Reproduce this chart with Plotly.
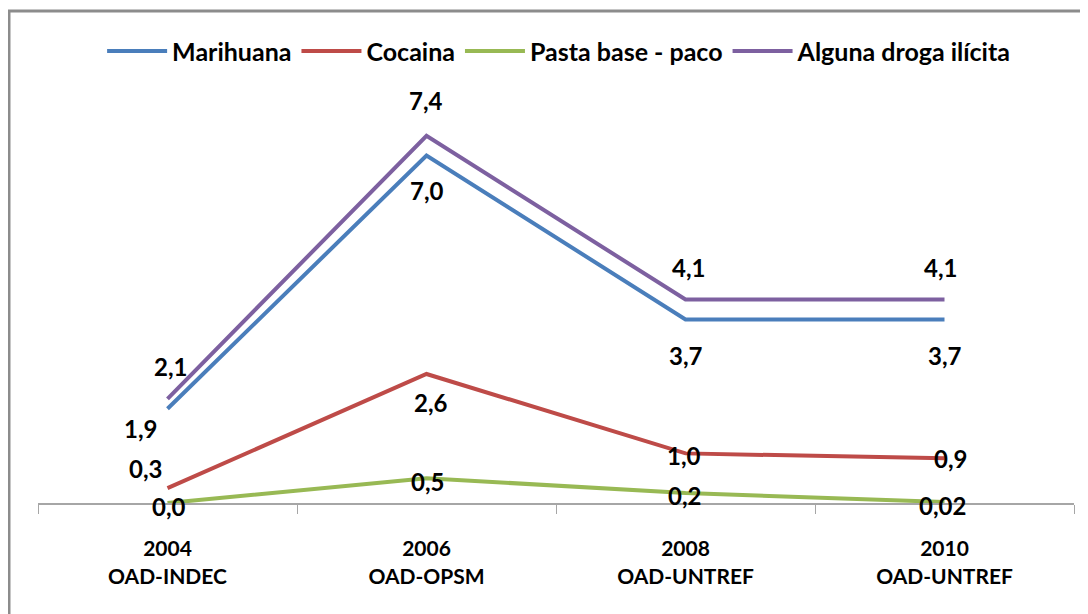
import plotly.graph_objects as go

# data
years = ["2004", "2006", "2008", "2010"]
sources = ["OAD-INDEC", "OAD-OPSM", "OAD-UNTREF", "OAD-UNTREF"]
marihuana = [1.9, 7.0, 3.7, 3.7]
cocaina = [0.3, 2.6, 1.0, 0.9]
pasta_base = [0.0, 0.5, 0.2, 0.02]
alguna_droga = [2.1, 7.4, 4.1, 4.1]
marihuana_txt = ["1,9", "7,0", "3,7", "3,7"]
cocaina_txt = ["0,3", "2,6", "1,0", "0,9"]
pasta_txt = ["0,0", "0,5", "0,2", "0,02"]
alguna_txt = ["2,1", "7,4", "4,1", "4,1"]

cats = [f"{y}<br>{s}" for y, s in zip(years, sources)]

FONT = "Lato"
# label offsets in px (dx, dy) for each point
series = [
    ("Marihuana", marihuana, marihuana_txt, "#4A7EBB",
     [(-27, -20), (0, -35), (0, -36), (0, -36)]),
    ("Cocaina", cocaina, cocaina_txt, "#BE4B48",
     [(-22, 20), (4, -29), (-2, -2), (6, 0)]),
    ("Pasta base - paco", pasta_base, pasta_txt, "#98B954",
     [(1, -3), (1, -3), (-1, -2), (-2, -3)]),
    ("Alguna droga ilícita", alguna_droga, alguna_txt, "#7D60A0",
     [(3, 32), (-1, 35), (3, 32), (-4, 32)]),
]

fig = go.Figure()
annotations = []
for name, vals, txt, color, offs in series:
    fig.add_trace(go.Scatter(
        x=cats, y=vals, mode="lines", name=name,
        line=dict(color=color, width=4),
        hoverinfo="skip",
    ))
    for c, v, t, (dx, dy) in zip(cats, vals, txt, offs):
        annotations.append(dict(
            x=c, y=v, text=f"<b>{t}</b>", showarrow=False,
            xshift=dx, yshift=dy,
            font=dict(family=FONT, size=24, color="black"),
        ))

fig.update_layout(
    width=1088, height=614,
    margin=dict(l=30, r=22, t=98, b=119, autoexpand=False),
    paper_bgcolor="white", plot_bgcolor="white",
    font=dict(family=FONT, size=20, color="black"),
    annotations=annotations,
    showlegend=True,
    legend=dict(
        orientation="h", x=0.503, xanchor="center", y=1.138, yanchor="middle",
        font=dict(family=FONT, size=25, color="black", weight="bold"),
        itemwidth=60, tracegroupgap=0,
    ),
    xaxis=dict(
        type="category", range=[-0.5, 3.5],
        showline=True, linecolor="#A6A6A6", linewidth=2,
        ticks="outside", tickson="boundaries", ticklen=9,
        tickcolor="#A6A6A6", tickwidth=1,
        showgrid=False, zeroline=False, fixedrange=True,
        ticklabelstandoff=26,
        tickfont=dict(family=FONT, size=21, color="black", weight="bold"),
    ),
    yaxis=dict(visible=False, range=[0, 8], fixedrange=True),
    shapes=[dict(
        type="rect", xref="paper", yref="paper",
        x0=-0.028, x1=1.2, y0=-0.5, y1=1.239,
        line=dict(color="#8C8C8C", width=3), fillcolor="rgba(0,0,0,0)",
        layer="below",
    )],
)

fig.write_html("out.html")
